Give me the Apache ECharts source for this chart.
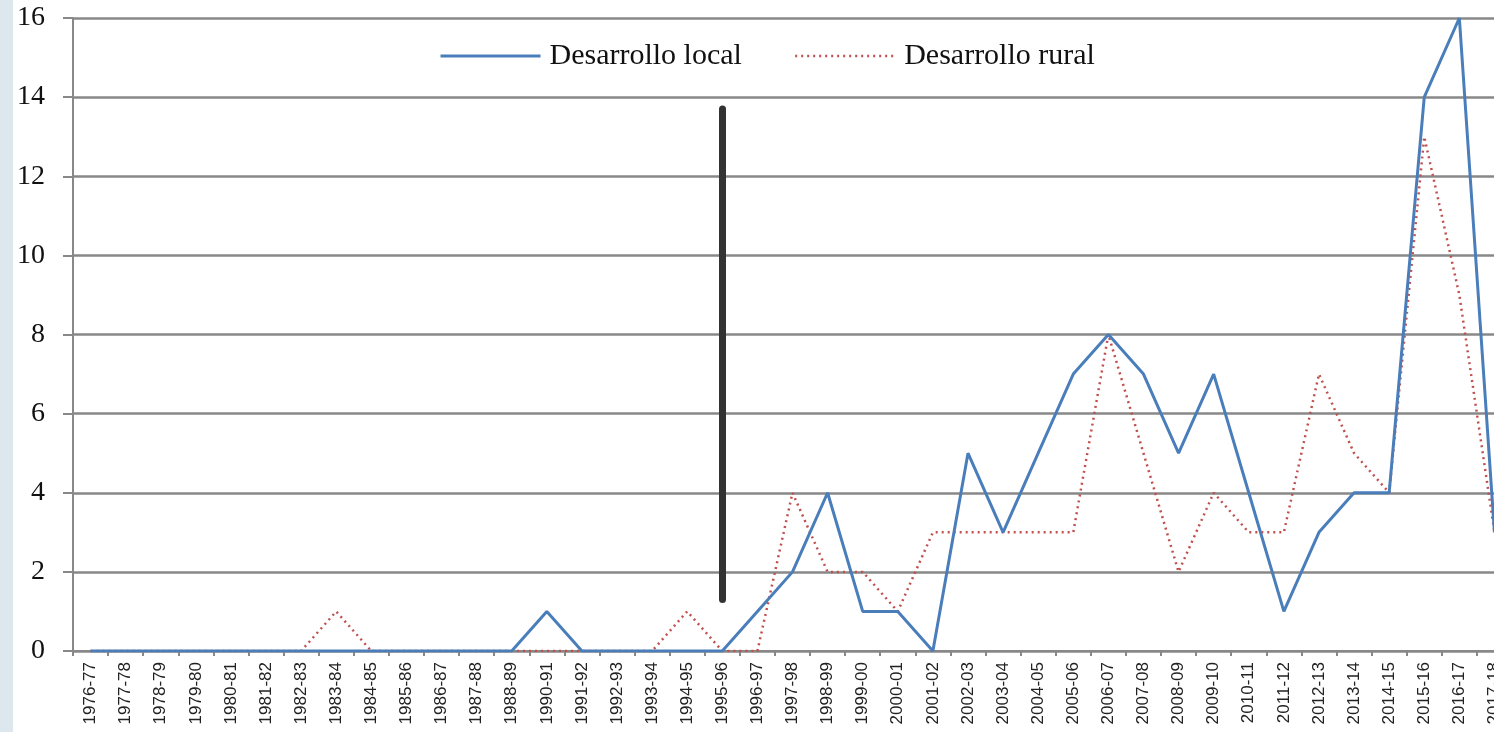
<!DOCTYPE html>
<html>
<head>
<meta charset="utf-8">
<script src="https://cdn.jsdelivr.net/npm/echarts@6/dist/echarts.min.js"></script>
<style>
html,body{margin:0;padding:0;background:#fff;overflow:hidden;width:1494px;height:732px;}
#c{width:1512px;height:732px;}
</style>
</head>
<body>
<div id="c"></div>
<script>
const categories = ['1976-77','1977-78','1978-79','1979-80','1980-81','1981-82','1982-83','1983-84','1984-85','1985-86','1986-87','1987-88','1988-89','1990-91','1991-92','1992-93','1993-94','1994-95','1995-96','1996-97','1997-98','1998-99','1999-00','2000-01','2001-02','2002-03','2003-04','2004-05','2005-06','2006-07','2007-08','2008-09','2009-10','2010-11','2011-12','2012-13','2013-14','2014-15','2015-16','2016-17','2017-18'];
const desarrolloLocal = [0,0,0,0,0,0,0,0,0,0,0,0,0,1,0,0,0,0,0,1,2,4,1,1,0,5,3,5,7,8,7,5,7,4,1,3,4,4,14,16,3];
const desarrolloRural = [0,0,0,0,0,0,0,1,0,0,0,0,0,0,0,0,0,1,0,0,4,2,2,1,3,3,3,3,3,8,5,2,4,3,3,7,5,4,13,9,3];
const yTicks = [0,2,4,6,8,10,12,14,16];
const annotationCategory = '1995-96';
const annotationRange = [13.7, 1.3];

const chart = echarts.init(document.getElementById('c'), null, {renderer:'canvas'});
chart.setOption({
  animation:false,
  backgroundColor:'#fff',
  graphic:[{type:'rect', left:0, top:0, shape:{width:13, height:732}, style:{fill:'#dce8ee'}, z:-1}],
  grid:{left:73, right:0, top:18, bottom:81, containLabel:false},
  legend:{
    left:434, top:36, itemWidth:100, itemHeight:14, itemGap:52,
    itemStyle:{opacity:0},
    textStyle:{fontFamily:'Liberation Serif', fontSize:30, color:'#111', padding:[0,0,0,4]},
    data:[
      {name:'Desarrollo local', lineStyle:{width:3}},
      {name:'Desarrollo rural', lineStyle:{width:2.5}}
    ]
  },
  xAxis:{
    type:'category', data:categories, boundaryGap:true,
    axisLine:{lineStyle:{color:'#888', width:2}},
    axisTick:{show:true, length:5, inside:false, lineStyle:{color:'#888', width:2}},
    axisLabel:{rotate:90, interval:0, fontFamily:'Liberation Sans', fontSize:17, color:'#222', margin:11}
  },
  yAxis:{
    type:'value', min:0, max:16, interval:2,
    axisLine:{show:true, lineStyle:{color:'#888', width:2}},
    axisTick:{show:true, length:10, lineStyle:{color:'#888', width:2}},
    splitLine:{lineStyle:{color:'#888', width:2.5}},
    axisLabel:{fontFamily:'Liberation Serif', fontSize:28, color:'#111', margin:28,
      formatter:function(v){return yTicks.indexOf(v)>=0?String(v):'';}}
  },
  series:[
    {name:'Desarrollo local', type:'line', data:desarrolloLocal, symbol:'none',
     lineStyle:{color:'#4a7ebb', width:3}, itemStyle:{color:'#4a7ebb'}, z:3,
     markLine:{silent:true, symbol:['none','none'], label:{show:false},
       lineStyle:{color:'#333', width:7, type:'solid', cap:'round'},
       data:[[{coord:[annotationCategory, annotationRange[0]]},{coord:[annotationCategory, annotationRange[1]]}]]}},
    {name:'Desarrollo rural', type:'line', data:desarrolloRural, symbol:'none',
     lineStyle:{color:'#c0504d', width:2.5, type:[2,4]}, itemStyle:{color:'#c0504d'}, z:2}
  ]
});
</script>
</body>
</html>
